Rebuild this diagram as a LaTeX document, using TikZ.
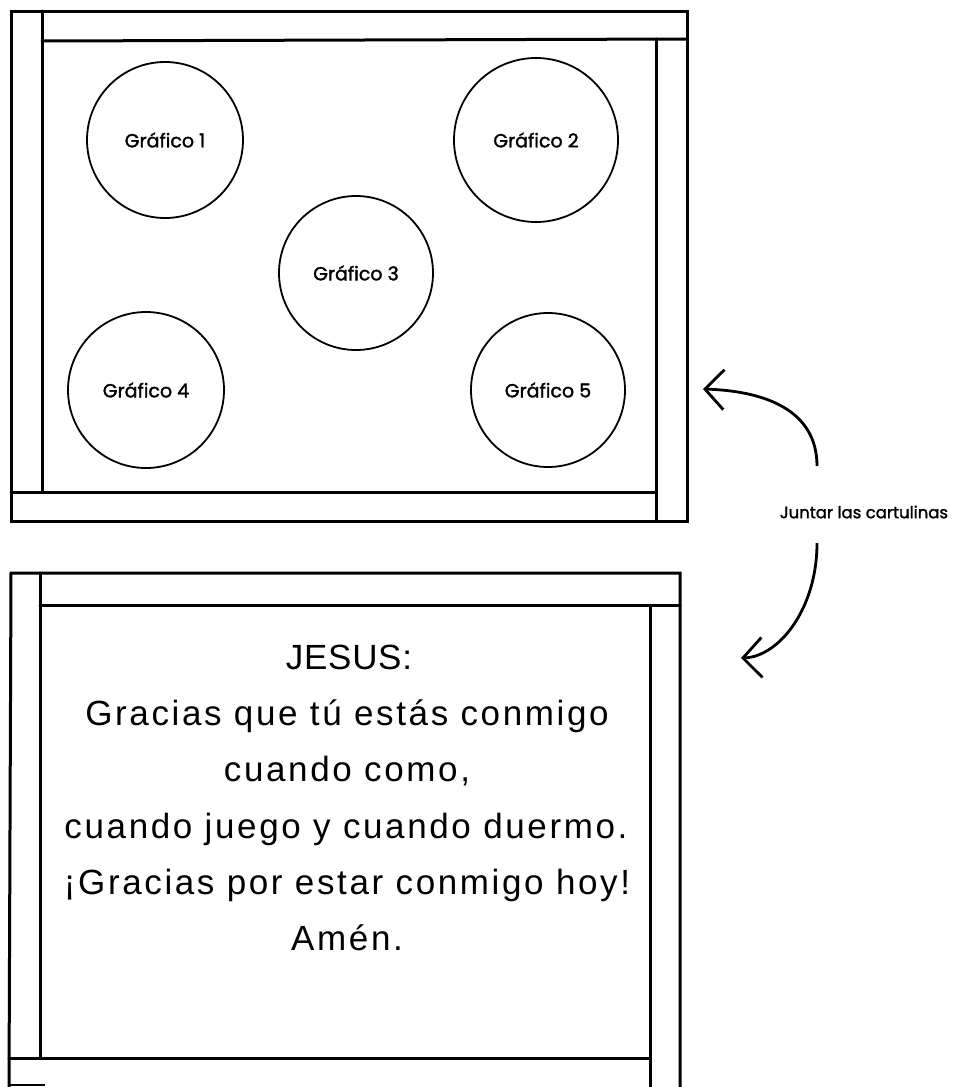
\documentclass[tikz,border=0pt]{standalone}
\usepackage{fontspec}
\setmainfont{Liberation Sans}
\newfontfamily\labelfont[FakeBold=1.6]{Poppins}
\newfontfamily\bodyfont[LetterSpace=7.5]{Liberation Sans}
\newfontfamily\headfont[LetterSpace=2]{Liberation Sans}
\usetikzlibrary{arrows.meta}
\tikzset{
  frame/.style={line width=3pt, line cap=round, line join=miter},
  circ/.style={circle, draw, line width=1.8pt, inner sep=0pt, font=\labelfont\fontsize{19}{21}\selectfont},
  bodytext/.style={anchor=base, inner sep=0pt, font=\bodyfont\fontsize{35}{38}\selectfont},
  headtext/.style={anchor=base, inner sep=0pt, font=\headfont\fontsize{35}{38}\selectfont},
  curvearrow/.style={line width=2.8pt, -{Straight Barb[length=19pt,width=40pt,line width=2.8pt]}},
  notelabel/.style={inner sep=0pt, font=\labelfont\fontsize{16.5}{18}\selectfont}
}
\begin{document}
\begin{tikzpicture}[x=1pt,y=-1pt]
\useasboundingbox (0,0) rectangle (965,1087);
% top frame
\draw[frame] (11,11) rectangle (687,521);
\draw[frame] (42,11) -- (42,492);
\draw[frame] (42,41) -- (687,39);
\draw[frame] (656,39) -- (656,521);
\draw[frame] (11,492) -- (656,492);
% circles
\node[circ, minimum size=156pt] (g1) at (165,140) {Gráfico 1};
\node[circ, minimum size=164pt] (g2) at (536,140) {Gráfico 2};
\node[circ, minimum size=154pt] (g3) at (356,273) {Gráfico 3};
\node[circ, minimum size=156pt] (g4) at (146,390) {Gráfico 4};
\node[circ, minimum size=154pt] (g5) at (548,390) {Gráfico 5};
% bottom frame
\draw[frame] (9,1087) -- (11,573) -- (680,573) -- (680,1087);
\draw[frame] (40,573) -- (40,1058);
\draw[frame] (40,605) -- (680,605);
\draw[frame] (650,605) -- (650,1087);
\draw[frame] (9,1058) -- (650,1058);
\draw[line width=1.5pt] (9,1085) -- (45,1085);
% text
\node[headtext] (t1) at (349,669) {JESUS:};
\node[bodytext] (t2) at (347,725) {Gracias que tú estás conmigo};
\node[bodytext] (t3) at (347,781) {cuando como,};
\node[bodytext] (t4) at (346,838) {cuando juego y cuando duermo.};
\node[bodytext] (t5) at (347,894) {¡Gracias por estar conmigo hoy!};
\node[bodytext] (t6) at (347,950) {Amén.};
% note and arrows
\node[notelabel] (note) at (864,512) {Juntar las cartulinas};
\coordinate (a1s) at (817,466);
\coordinate (a1e) at (703,389);
\coordinate (a2s) at (817,543);
\coordinate (a2e) at (741,658);
\draw[curvearrow] (a1s) .. controls (817,410) and (765,391) .. (a1e);
\draw[curvearrow] (a2s) .. controls (817,610) and (778,657) .. (a2e);
\end{tikzpicture}
\end{document}
